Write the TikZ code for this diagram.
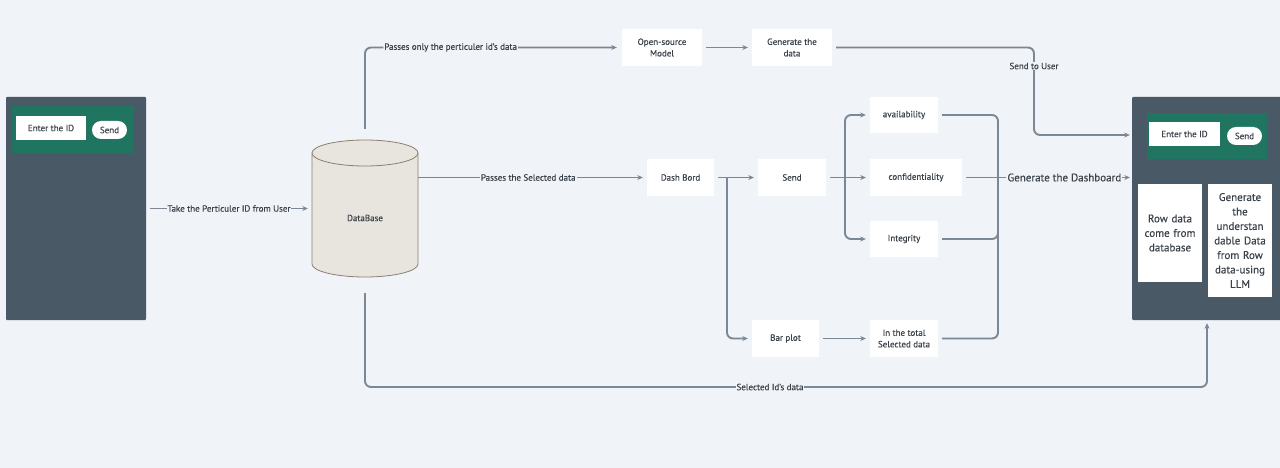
\documentclass[tikz,border=0pt]{standalone}
\usepackage{fontspec}
\setmainfont{PT Sans}[FakeBold=0.35]
\usetikzlibrary{arrows.meta,calc}
\definecolor{bg}{HTML}{F0F3F7}
\definecolor{panel}{HTML}{4A5966}
\definecolor{grn}{HTML}{1F7560}
\definecolor{ln}{HTML}{7B8794}
\definecolor{txt}{HTML}{3B424A}
\definecolor{dbfill}{HTML}{E8E4DE}
\definecolor{dbline}{HTML}{8C8070}
\begin{document}
\begin{tikzpicture}[x=1pt,y=-1pt,
  box/.style={fill=white, text=txt, font=\fontsize{9}{11.5}\selectfont, align=center, inner sep=0pt},
  pbox/.style={fill=white, text=txt, font=\fontsize{11}{14.5}\selectfont, align=center, inner sep=0pt},
  conn/.style={draw=ln, line width=1.9pt},
  arr/.style={conn, -{Stealth[length=5.5pt,width=5pt]}},
  lab/.style={fill=bg, text=txt, font=\fontsize{9}{11}\selectfont, inner sep=1pt}
]
\fill[bg] (0,0) rectangle (1280,468);
\useasboundingbox (0,0) rectangle (1280,468);

% left panel
\node[fill=panel, minimum width=140, minimum height=223, rounded corners=1, inner sep=0] (lp) at (76,208.5) {};
\node[fill=grn, minimum width=122, minimum height=47, inner sep=0] (lg) at (73,129.5) {};
\node[box, minimum width=70, minimum height=24] (lid) at (51,128) {Enter the ID};
\node[box, minimum width=35, minimum height=18, rounded corners=9] (lsend) at (109.5,130) {Send};

% right panel
\node[fill=panel, minimum width=154, minimum height=223, rounded corners=1, inner sep=0] (rp) at (1209,208.5) {};
\node[fill=grn, minimum width=121, minimum height=46, inner sep=0] (rg) at (1207.5,136) {};
\node[box, minimum width=71, minimum height=24] (rid) at (1184.5,134) {Enter the ID};
\node[box, minimum width=35, minimum height=18, rounded corners=9] (rsend) at (1244.5,136) {Send};
\node[pbox, minimum width=64, minimum height=98, text width=62] (row) at (1170,233) {Row data\\come from\\database};
\node[pbox, minimum width=64, minimum height=113, text width=62] (llm) at (1240,240.5) {Generate\\the\\understan\\dable Data\\from Row\\data-using\\LLM};

% database cylinder
\fill[dbfill, draw=dbline, line width=0.8pt] (312,153) -- (312,264) arc[start angle=180, end angle=0, x radius=53, y radius=13] -- (418,153);
\draw[dbline, line width=0.8pt, fill=dbfill] (365,153) ellipse [x radius=53, y radius=13];
\node[minimum width=106, minimum height=137, inner sep=0] (db) at (365,208.5) {};
\node[text=txt, font=\fontsize{9}{11}\selectfont] (dbl) at (365,218) {DataBase};

% boxes
\node[box, minimum width=80, minimum height=37] (osm) at (662,47.5) {Open-source\\Model};
\node[box, minimum width=80, minimum height=37] (gen) at (792,47.5) {Generate the\\data};
\node[box, minimum width=67, minimum height=37] (dash) at (680.5,177.5) {Dash Bord};
\node[box, minimum width=68, minimum height=37] (send) at (792,177.5) {Send};
\node[box, minimum width=68, minimum height=36] (av) at (904,115) {availability};
\node[box, minimum width=92, minimum height=37] (conf) at (916,177.5) {confidentiality};
\node[box, minimum width=68, minimum height=36] (int) at (904,239) {Integrity};
\node[box, minimum width=67, minimum height=37] (bar) at (785.5,338.5) {Bar plot};
\node[box, minimum width=68, minimum height=37] (tot) at (904,338.5) {In the total\\Selected data};

% coordinates
\coordinate (su) at (1034,135);
\coordinate (br1) at (727,177.5);
\coordinate (br2) at (845,177.5);
\coordinate (mg) at (998,177.5);
\coordinate (sb) at (1207,387);

% connectors
\draw[arr] ([xshift=4pt]lp.east) -- node[lab]{Take the Perticuler ID from User} ([xshift=-4pt]db.west);
\draw[arr, rounded corners=6] ([yshift=11pt]db.north) |- node[lab, pos=0.67]{Passes only the perticuler id's data} ([xshift=-5pt]osm.west);
\draw[arr] ([xshift=4pt]osm.east) -- ([xshift=-4pt]gen.west);
\draw[arr, rounded corners=6] ([xshift=4pt]gen.east) -| (su) -- ([xshift=-2pt]rp.west |- su);
\node[lab] (sul) at (1034,66) {Send to User};
\draw[arr, rounded corners=6] ([yshift=-16pt]db.south) |- (sb) -- ([yshift=-3pt]sb |- rp.south);
\node[lab] (sbl) at (770,387) {Selected Id's data};
\draw[arr] (db.east |- dash.west) -- node[lab, pos=0.49]{Passes the Selected data} ([xshift=-4pt]dash.west);
\draw[arr] ([xshift=4pt]dash.east) -- ([xshift=-4pt]send.west);
\draw[arr, rounded corners=6] (br1) |- ([xshift=-4pt]bar.west);
\draw[conn] ([xshift=4pt]send.east) -- (br2);
\draw[arr, rounded corners=6] (br2) |- ([xshift=-4pt]av.west);
\draw[arr, rounded corners=6] (br2) |- ([xshift=-4pt]int.west);
\draw[arr] (br2) -- ([xshift=-4pt]conf.west);
\draw[arr] ([xshift=4pt]bar.east) -- ([xshift=-4pt]tot.west);
\draw[conn, rounded corners=6] ([xshift=4pt]av.east) -| (mg);
\draw[conn, rounded corners=6] ([xshift=4pt]int.east) -| (mg);
\draw[conn, rounded corners=6] ([xshift=4pt]tot.east) -| (mg);
\draw[arr] ([xshift=4pt]conf.east) -- node[lab, pos=0.6, font=\fontsize{11}{13}\selectfont]{Generate the Dashboard} ([xshift=-2pt]rp.west |- mg);
\end{tikzpicture}
\end{document}
